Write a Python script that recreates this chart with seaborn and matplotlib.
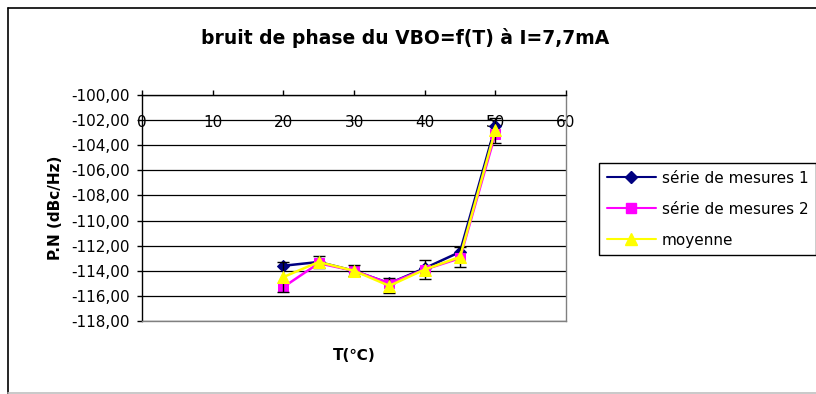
import matplotlib
matplotlib.use("Agg")
import matplotlib.pyplot as plt
import seaborn as sns
import pandas as pd
from matplotlib.lines import Line2D

# ---- data ----
temperature = [20, 25, 30, 35, 40, 45, 50]
serie1 = [-113.6, -113.3, -114.0, -115.0, -113.8, -112.5, -102.5]
serie2 = [-115.3, -113.4, -114.0, -115.0, -113.9, -113.0, -103.1]
moyenne = [-114.5, -113.3, -114.0, -115.2, -113.9, -112.9, -102.8]
ecart = [1.2, 0.5, 0.45, 0.6, 0.75, 0.8, 1.0]
series_names = ["série de mesures 1", "série de mesures 2", "moyenne"]
x_ticks = [0, 10, 20, 30, 40, 50, 60]
y_ticks = [-100, -102, -104, -106, -108, -110, -112, -114, -116, -118]
y_tick_labels = ["-100,00", "-102,00", "-104,00", "-106,00", "-108,00",
                 "-110,00", "-112,00", "-114,00", "-116,00", "-118,00"]
title = "bruit de phase du VBO=f(T) à I=7,7mA"

sns.set_theme(style="white")
plt.rcParams["font.family"] = ["DejaVu Sans"]
plt.rcParams["text.color"] = "black"
plt.rcParams["axes.labelcolor"] = "black"
plt.rcParams["xtick.color"] = "black"
plt.rcParams["ytick.color"] = "black"

FS = 11
W, H = 816, 394
fig = plt.figure(figsize=(W / 100, H / 100), dpi=100)
ax = fig.add_axes([142 / W, 1 - 321 / H, (566 - 142) / W, (321 - 95) / H])

df = pd.DataFrame({"T": temperature, "s1": serie1, "s2": serie2, "m": moyenne})

colors = ["#000080", "#FF00FF", "#FFFF00"]
markers = ["D", "s", "^"]
msizes = [6, 7, 8]
cols = ["s1", "s2", "m"]

for i, c in enumerate(cols):
    sns.lineplot(data=df, x="T", y=c, ax=ax, color=colors[i], marker=markers[i],
                 markersize=msizes[i], markeredgecolor=colors[i], linewidth=1.8,
                 zorder=3 + i, legend=False)
    if i == 1:
        ax.errorbar(temperature, moyenne, yerr=ecart, fmt="none", ecolor="black",
                    elinewidth=1, capsize=4, capthick=1, zorder=4)

ax.set_xlim(0, 60)
ax.set_ylim(-118, -100)
ax.set_yticks(y_ticks)
ax.set_yticklabels(y_tick_labels, fontsize=FS)
ax.set_xticks(x_ticks)
ax.set_xticklabels([str(v) for v in x_ticks], fontsize=FS)

ax.xaxis.tick_top()
ax.tick_params(axis="x", which="both", direction="out", length=3.6, width=1,
               color="black", labelcolor="black", top=True, bottom=False,
               labeltop=True, labelbottom=False, pad=-29)
ax.tick_params(axis="y", direction="out", length=3.6, width=1, color="black",
               labelcolor="black", left=True, pad=5)
for lab in ax.get_xticklabels():
    lab.set_zorder(10)

ax.yaxis.grid(True, color="black", linewidth=0.9)
ax.xaxis.grid(False)
ax.set_axisbelow(True)

ax.spines["left"].set_color("black")
ax.spines["top"].set_color("black")
ax.spines["right"].set_color("#808080")
ax.spines["bottom"].set_color("#808080")
for s in ax.spines.values():
    s.set_linewidth(1)

ax.xaxis.set_label_position("bottom")
ax.set_xlabel("T(℃)", fontsize=FS, fontweight="bold", color="black")
ax.xaxis.set_label_coords(0.5, -(355 - 321) / (321 - 95), transform=ax.transAxes)
ax.xaxis.label.set_va("center")
ax.set_ylabel("P.N (dBc/Hz)", fontsize=FS, fontweight="bold", color="black")
ax.yaxis.set_label_coords(-(142 - 55) / (566 - 142), 0.5)
ax.yaxis.label.set_va("center")

fig.text(405 / W, 1 - 38 / H, title, ha="center", va="center",
         fontsize=13.5, fontweight="bold", color="black")

handles = [Line2D([0], [0], color=colors[i], marker=markers[i], markersize=msizes[i],
                  markeredgecolor=colors[i], linewidth=1.5) for i in range(3)]
leg = fig.legend(handles, series_names, loc="upper left",
                 bbox_to_anchor=(599 / W, 1 - 163 / H), fontsize=FS,
                 frameon=True, fancybox=False, edgecolor="black", framealpha=1,
                 borderpad=0.5, labelspacing=1.05, handlelength=3.2,
                 handletextpad=0.4, borderaxespad=0)
leg.get_frame().set_linewidth(1)
for t in leg.get_texts():
    t.set_color("black")

# figure border (chart area)
fig.add_artist(Line2D([8 / W, 8 / W], [0, 1 - 8 / H], color="black", lw=1.2,
                      transform=fig.transFigure))
fig.add_artist(Line2D([8 / W, 1], [1 - 8 / H, 1 - 8 / H], color="black", lw=1.2,
                      transform=fig.transFigure))
fig.add_artist(Line2D([8 / W, 1], [1 - 393 / H, 1 - 393 / H], color="#c0c0c0",
                      lw=1.2, transform=fig.transFigure))

fig.savefig("out.png", dpi=100)
